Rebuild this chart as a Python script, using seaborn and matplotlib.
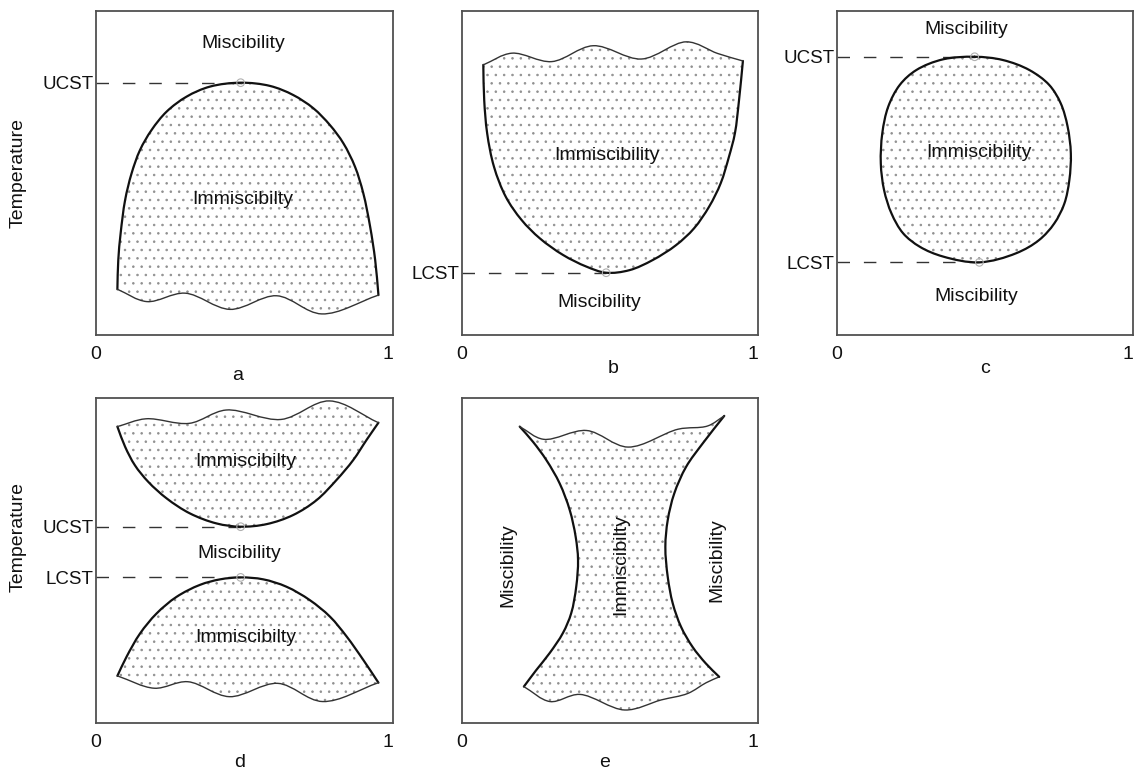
import numpy as np
import matplotlib
matplotlib.use("Agg")
import matplotlib.pyplot as plt
from matplotlib.path import Path
from matplotlib.patches import PathPatch
import seaborn as sns

sns.set_theme(style="white")
plt.rcParams["font.family"] = ["Liberation Sans", "DejaVu Sans"]
plt.rcParams["hatch.linewidth"] = 0.6

# ---- outline points of the phase regions (x = composition, y = temperature) ----
# (a) UCST only
a_dome_x = [0.072, 0.075, 0.083, 0.098, 0.120, 0.148, 0.187, 0.238, 0.305, 0.384, 0.487,
            0.586, 0.664, 0.732, 0.788, 0.833, 0.872, 0.900, 0.923, 0.940, 0.951]
a_dome_y = [0.141, 0.231, 0.314, 0.416, 0.499, 0.570, 0.632, 0.689, 0.735, 0.766, 0.778,
            0.768, 0.740, 0.699, 0.647, 0.591, 0.519, 0.437, 0.334, 0.231, 0.123]
a_wave_x = [0.951, 0.760, 0.608, 0.451, 0.300, 0.171, 0.072]
a_wave_y = [0.123, 0.065, 0.121, 0.079, 0.129, 0.103, 0.141]

# (b) LCST only
b_bowl_x = [0.072, 0.075, 0.085, 0.108, 0.148, 0.201, 0.263, 0.341, 0.420, 0.487,
            0.566, 0.644, 0.723, 0.784, 0.835, 0.874, 0.902, 0.922, 0.936, 0.949]
b_bowl_y = [0.833, 0.725, 0.622, 0.519, 0.426, 0.355, 0.298, 0.247, 0.211, 0.192,
            0.200, 0.231, 0.277, 0.329, 0.396, 0.468, 0.550, 0.622, 0.725, 0.845]
b_wave_x = [0.949, 0.864, 0.758, 0.606, 0.443, 0.303, 0.168, 0.072]
b_wave_y = [0.845, 0.868, 0.904, 0.851, 0.892, 0.843, 0.869, 0.833]

# (c) closed loop
c_loop_x = [0.465, 0.560, 0.650, 0.717, 0.756, 0.779, 0.790, 0.785, 0.768, 0.734, 0.683, 0.605,
            0.481, 0.358, 0.280, 0.223, 0.184, 0.159, 0.148, 0.153, 0.173, 0.212, 0.268, 0.358]
c_loop_y = [0.858, 0.848, 0.817, 0.771, 0.714, 0.643, 0.560, 0.478, 0.405, 0.344, 0.293, 0.252,
            0.224, 0.242, 0.272, 0.314, 0.375, 0.447, 0.529, 0.622, 0.704, 0.771, 0.817, 0.850]

# (d) separate upper and lower gaps
d_up_x = [0.072, 0.098, 0.131, 0.176, 0.238, 0.316, 0.406, 0.487,
          0.575, 0.664, 0.743, 0.810, 0.866, 0.911, 0.951]
d_up_y = [0.912, 0.850, 0.793, 0.742, 0.691, 0.645, 0.614, 0.604,
          0.612, 0.640, 0.686, 0.748, 0.809, 0.871, 0.924]
d_top_x = [0.951, 0.786, 0.623, 0.438, 0.314, 0.168, 0.072]
d_top_y = [0.924, 0.991, 0.934, 0.963, 0.922, 0.936, 0.912]
d_low_x = [0.072, 0.103, 0.148, 0.204, 0.271, 0.350, 0.418, 0.487,
           0.563, 0.642, 0.720, 0.788, 0.844, 0.900, 0.951]
d_low_y = [0.145, 0.204, 0.275, 0.337, 0.388, 0.425, 0.442, 0.448,
           0.442, 0.419, 0.378, 0.327, 0.266, 0.194, 0.124]
d_bot_x = [0.951, 0.763, 0.612, 0.449, 0.309, 0.196, 0.072]
d_bot_y = [0.124, 0.066, 0.122, 0.081, 0.127, 0.107, 0.145]

# (e) hourglass
e_left_x = [0.195, 0.240, 0.285, 0.330, 0.364, 0.384, 0.392, 0.386, 0.369, 0.341, 0.296, 0.251, 0.209]
e_left_y = [0.912, 0.865, 0.809, 0.737, 0.655, 0.573, 0.502, 0.420, 0.338, 0.277, 0.215, 0.163, 0.112]
e_bot_x = [0.209, 0.297, 0.398, 0.550, 0.673, 0.763, 0.825, 0.869]
e_bot_y = [0.112, 0.066, 0.088, 0.040, 0.071, 0.091, 0.124, 0.142]
e_right_x = [0.869, 0.824, 0.779, 0.740, 0.712, 0.695, 0.687, 0.695, 0.717, 0.757, 0.813, 0.886]
e_right_y = [0.142, 0.183, 0.234, 0.296, 0.368, 0.450, 0.542, 0.624, 0.706, 0.788, 0.860, 0.945]
e_top_x = [0.886, 0.830, 0.730, 0.561, 0.421, 0.275, 0.195]
e_top_y = [0.945, 0.914, 0.904, 0.849, 0.900, 0.873, 0.912]

# critical temperatures (label, x, y) per panel
crit_a = [("UCST", 0.487, 0.778)]
crit_b = [("LCST", 0.487, 0.192)]
crit_c = [("UCST", 0.465, 0.858), ("LCST", 0.481, 0.224)]
crit_d = [("UCST", 0.487, 0.604), ("LCST", 0.487, 0.448)]

# region labels (text, x, y, rotation)
labels_a = [("Miscibility", 0.496, 0.900, 0), ("Immiscibilty", 0.494, 0.418, 0)]
labels_b = [("Immiscibility", 0.490, 0.555, 0), ("Miscibility", 0.465, 0.100, 0)]
labels_c = [("Miscibility", 0.437, 0.943, 0), ("Immiscibility", 0.481, 0.562, 0),
            ("Miscibility", 0.470, 0.120, 0)]
labels_d = [("Immiscibilty", 0.505, 0.804, 0), ("Miscibility", 0.483, 0.520, 0),
            ("Immiscibilty", 0.505, 0.264, 0)]
labels_e = [("Miscibility", 0.156, 0.486, 90), ("Immiscibilty", 0.538, 0.489, 90),
            ("Miscibility", 0.860, 0.500, 90)]

FS = 14
INK = "#111111"


def bezier_chain(xs, ys, closed=False, alpha=0.5):
    """Cubic Bezier control points of a centripetal Catmull-Rom curve."""
    p = np.column_stack([xs, ys]).astype(float)
    if closed:
        ext = np.vstack([p[-1], p, p[0], p[1]])
        nseg = len(p)
    else:
        ext = np.vstack([2 * p[0] - p[1], p, 2 * p[-1] - p[-2]])
        nseg = len(p) - 1
    out = []
    for i in range(nseg):
        p0, p1, p2, p3 = ext[i], ext[i + 1], ext[i + 2], ext[i + 3]
        d0 = max(np.linalg.norm(p1 - p0) ** alpha, 1e-9)
        d1 = max(np.linalg.norm(p2 - p1) ** alpha, 1e-9)
        d2 = max(np.linalg.norm(p3 - p2) ** alpha, 1e-9)
        m1 = ((p1 - p0) / d0 - (p2 - p0) / (d0 + d1) + (p2 - p1) / d1) * d1
        m2 = ((p2 - p1) / d1 - (p3 - p1) / (d1 + d2) + (p3 - p2) / d2) * d1
        out += [p1 + m1 / 3.0, p2 - m2 / 3.0, p2]
    return out


def curve_path(xs, ys, closed=False):
    ctrl = bezier_chain(xs, ys, closed)
    verts = [(xs[0], ys[0])] + ctrl
    codes = [Path.MOVETO] + [Path.CURVE4] * len(ctrl)
    return Path(verts, codes)


def region(ax, pieces, closed=False):
    """pieces: list of (xs, ys, linewidth) chained end to end."""
    verts = [(pieces[0][0][0], pieces[0][1][0])]
    codes = [Path.MOVETO]
    for xs, ys, _ in pieces:
        ctrl = bezier_chain(xs, ys, closed)
        verts += ctrl
        codes += [Path.CURVE4] * len(ctrl)
    verts.append(verts[0])
    codes.append(Path.CLOSEPOLY)
    ax.add_patch(PathPatch(Path(verts, codes), facecolor="white", edgecolor="#909090",
                           lw=0, hatch="..", zorder=1))
    for xs, ys, lw in pieces:
        col = INK if lw > 1.3 else "#333333"
        ax.add_patch(PathPatch(curve_path(xs, ys, closed), facecolor="none",
                               edgecolor=col, lw=lw, zorder=3, capstyle="round",
                               joinstyle="round"))


def setup(ax, letter, lx, ly, crit, labels):
    ax.set_xlim(0, 1)
    ax.set_ylim(0, 1)
    ax.set_xticks([0, 1])
    ax.set_xticklabels(["0", "1"], fontsize=FS)
    ax.get_xticklabels()[1].set_horizontalalignment("right")
    ax.set_yticks([c[2] for c in crit])
    ax.set_yticklabels([c[0] for c in crit], fontsize=13.5)
    ax.tick_params(axis="x", length=0, pad=8, colors=INK)
    ax.tick_params(axis="y", length=0, pad=2, colors=INK)
    for s in ax.spines.values():
        s.set_visible(True)
        s.set_color("#505050")
        s.set_linewidth(1.3)
    ax.set_xlabel("")
    ax.set_ylabel("")
    ax.text(lx, ly, letter, transform=ax.transAxes, ha="center", va="baseline",
            fontsize=FS, color=INK)
    for name, cx, cy in crit:
        sns.lineplot(x=[0.0, cx], y=[cy, cy], ax=ax, color="#333333", lw=1.0,
                     linestyle=(0, (9, 10)), sort=False, estimator=None, zorder=2)
    if crit:
        sns.scatterplot(x=[c[1] for c in crit], y=[c[2] for c in crit], ax=ax,
                        s=30, marker="o", facecolor="none", edgecolor="#b0b0b0",
                        linewidth=0.8, zorder=4)
    for txt, tx, ty, rot in labels:
        ax.text(tx, ty, txt, ha="center", va="center", rotation=rot,
                fontsize=FS, color=INK, zorder=5)


fig = plt.figure(figsize=(11.36, 7.72), dpi=100)
W, H = 1136.0, 772.0


def box(left, top, right, bottom):
    return fig.add_axes([left / W, 1 - bottom / H, (right - left) / W, (bottom - top) / H])


ax_a = box(96, 10.7, 393, 335)
ax_b = box(462, 10.7, 758, 335)
ax_c = box(837, 10.7, 1133, 335)
ax_d = box(96, 398, 393, 723)
ax_e = box(462, 398, 758, 723)

region(ax_a, [(a_dome_x, a_dome_y, 1.6), (a_wave_x, a_wave_y, 1.0)])
region(ax_b, [(b_bowl_x, b_bowl_y, 1.6), (b_wave_x, b_wave_y, 1.0)])
region(ax_c, [(c_loop_x, c_loop_y, 1.6)], closed=True)
region(ax_d, [(d_up_x, d_up_y, 1.6), (d_top_x, d_top_y, 1.0)])
region(ax_d, [(d_low_x, d_low_y, 1.6), (d_bot_x, d_bot_y, 1.0)])
region(ax_e, [(e_left_x, e_left_y, 1.6), (e_bot_x, e_bot_y, 1.0),
              (e_right_x, e_right_y, 1.6), (e_top_x, e_top_y, 1.0)])

setup(ax_a, "a", 0.478, -0.139, crit_a, labels_a)
setup(ax_b, "b", 0.510, -0.117, crit_b, labels_b)
setup(ax_c, "c", 0.500, -0.117, crit_c, labels_c)
setup(ax_d, "d", 0.485, -0.135, crit_d, labels_d)
setup(ax_e, "e", 0.480, -0.135, [], labels_e)

fig.text(18 / W, 1 - 173.5 / H, "Temperature", rotation=90, ha="center", va="center",
         fontsize=FS, color=INK)
fig.text(18 / W, 1 - 537.5 / H, "Temperature", rotation=90, ha="center", va="center",
         fontsize=FS, color=INK)

fig.savefig("out.png", dpi=100, facecolor="white")
